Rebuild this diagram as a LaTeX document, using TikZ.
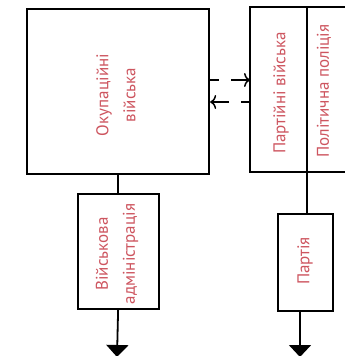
\documentclass[tikz,border=0pt]{standalone}
\usepackage{fontspec}
\setmainfont{PT Sans}
\usetikzlibrary{arrows.meta}
\definecolor{txtred}{RGB}{205,85,95}
\tikzset{
  box/.style={draw=black, line width=2.2pt},
  lbl/.style={text=txtred, rotate=90, font=\fontsize{17pt}{27pt}\selectfont, align=center, inner sep=0pt},
  conn/.style={draw=black, line width=1.8pt},
  dasharr/.style={draw=black, line width=1.5pt, dash pattern=on 9pt off 12pt on 20pt off 0pt, -{To[length=6pt,width=14pt,line width=1.5pt]}},
  downarr/.style={conn, -{Triangle[length=12pt,width=22pt]}}
}
\begin{document}
\begin{tikzpicture}[x=1pt,y=-1pt]
\useasboundingbox (0,0) rectangle (345,356);
\node[box, minimum width=182pt, minimum height=165pt, anchor=north west, inner sep=0pt] (occ) at (26,8) {};
\node[lbl] (occt) at (116,95) {Окупаційні\\військa};
\draw[box] (250,7) rectangle (352,172);
\coordinate (rbw) at (250,80);
\coordinate (rbw2) at (250,102);
\draw[box] (307,7) -- (307,172);
\coordinate (div) at (307,172);
\node[lbl] (pv) at (281,93) {Партійні військa};
\node[lbl] (pp) at (324,91) {Політична поліція};
\node[box, minimum width=81pt, minimum height=115pt, anchor=north west, inner sep=0pt] (va) at (76.5,193) {};
\node[lbl] (vat) at (117,254) {Військова\\адміністрація};
\node[box, minimum width=55pt, minimum height=97pt, anchor=north west, inner sep=0pt] (part) at (277,213) {};
\node[lbl] (partt) at (305,261) {Партія};
\draw[dasharr] (occ.east |- rbw) -- (rbw);
\draw[dasharr] (rbw2) -- (occ.east |- rbw2);
\draw[conn] (occ.south) -- (va.north);
\draw[conn] (div) -- (div |- part.north);
\coordinate (e1) at (117,357);
\coordinate (e2) at (300,357);
\draw[downarr] (va.south) -- (e1);
\draw[downarr] (part.south -| e2) -- (e2);
\end{tikzpicture}
\end{document}
